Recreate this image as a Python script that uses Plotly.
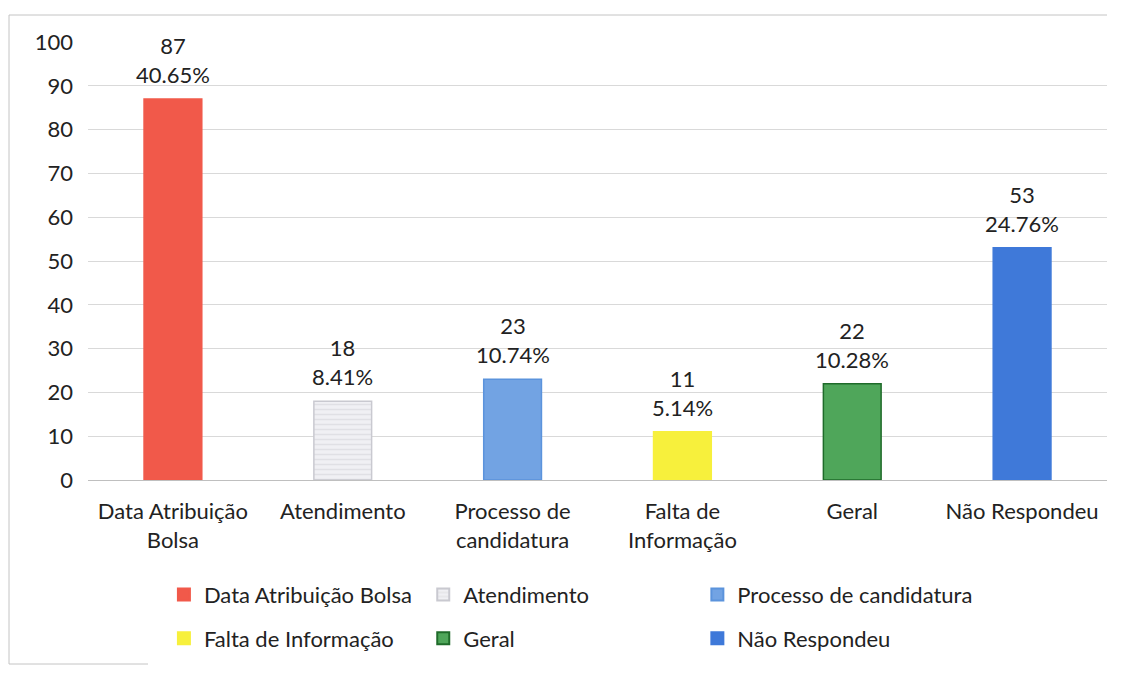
import plotly.graph_objects as go

categories = ["Data Atribuição Bolsa", "Atendimento", "Processo de candidatura",
              "Falta de Informação", "Geral", "Não Respondeu"]
tick_labels = ["Data Atribuição<br>Bolsa", "Atendimento", "Processo de<br>candidatura",
               "Falta de<br>Informação", "Geral", "Não Respondeu"]
counts = [87, 18, 23, 11, 22, 53]
percents = ["40.65%", "8.41%", "10.74%", "5.14%", "10.28%", "24.76%"]

colors = ["#f1594a", "#e6e6ec", "#72a3e3", "#f7f03c", "#4fa65a", "#3f79d9"]
edges = ["#f1594a", "#c9c9d0", "#5b93dc", "#f7f03c", "#1f6b2a", "#3f79d9"]
# legend columns: (Data, Falta), (Atendimento, Geral), (Processo, Não Respondeu)
legend_of = ["legend", "legend2", "legend3", "legend", "legend2", "legend3"]

font = "Lato, 'Open Sans', sans-serif"

fig = go.Figure()
for i, cat in enumerate(categories):
    pattern = dict(shape="-", fgcolor="#d0d0d6", bgcolor="#f0f0f4", size=5, solidity=0.3) if i == 1 else None
    fig.add_trace(go.Bar(
        x=[tick_labels[i]], y=[counts[i]], name=cat,
        marker=dict(color=colors[i], line=dict(color=edges[i], width=1.5),
                    pattern=pattern),
        width=0.34,
        legend=legend_of[i], legendgroup=cat,
    ))
    fig.add_annotation(x=tick_labels[i], y=counts[i], text=f"{counts[i]}<br>{percents[i]}",
                       showarrow=False, yanchor="bottom", yshift=9,
                       font=dict(size=22, color="#222222", family=font))

leg = dict(orientation="v", xanchor="left", y=-0.214, yanchor="top", tracegroupgap=12,
           font=dict(size=22, family=font), itemsizing="constant", bgcolor="rgba(0,0,0,0)")

# page body adds 8px offset, so the figure is a bit smaller than the window
fig.update_layout(
    width=1110, height=657,
    margin=dict(l=80, r=11, t=34, b=185, autoexpand=False),
    plot_bgcolor="white", paper_bgcolor="white",
    barmode="overlay",
    font=dict(family=font, size=22, color="#222222"),
    xaxis=dict(type="category", categoryorder="array", categoryarray=tick_labels,
               showline=True, linecolor="#bfbfbf", linewidth=1, ticks="",
               ticklabelstandoff=12),
    yaxis=dict(range=[0, 100], dtick=10, showgrid=True, gridcolor="#d9d9d9",
               zeroline=False, ticks="", ticklabelstandoff=14),
    legend=dict(leg, x=0.0745),
    legend2=dict(leg, x=0.329),
    legend3=dict(leg, x=0.598),
    showlegend=True,
)

# scanned frame: left edge, top edge and a short bit of the bottom edge
frame = "#c4c4c4"
fig.add_shape(type="line", xref="paper", yref="paper", x0=-79 / 1019, x1=-79 / 1019,
              y0=-184 / 438, y1=1 + 27 / 438, line=dict(color=frame, width=1))
fig.add_shape(type="line", xref="paper", yref="paper", x0=-79 / 1019, x1=1.0,
              y0=1 + 27 / 438, y1=1 + 27 / 438, line=dict(color=frame, width=1))
fig.add_shape(type="line", xref="paper", yref="paper", x0=-79 / 1019, x1=60 / 1019,
              y0=-184 / 438, y1=-184 / 438, line=dict(color=frame, width=1))

fig.write_html("out.html")
